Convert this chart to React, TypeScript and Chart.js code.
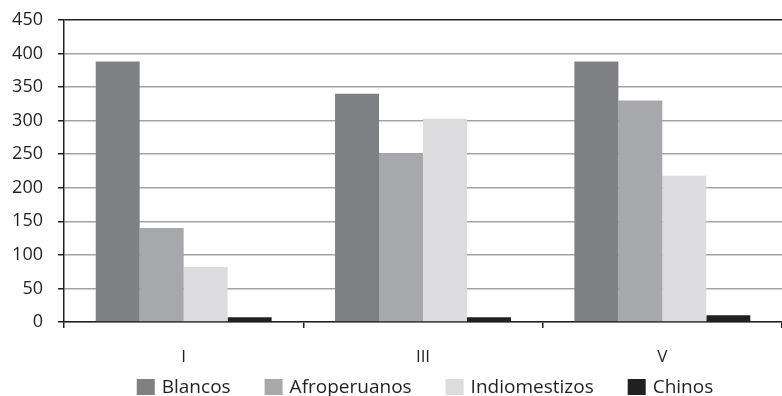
import React, { useEffect, useRef } from "react";
import { Chart, registerables } from "chart.js";

Chart.register(...registerables);

const categories = ["I", "III", "V"];
const seriesNames = ["Blancos", "Afroperuanos", "Indiomestizos", "Chinos"];
const blancos = [388, 340, 388];
const afroperuanos = [140, 251, 330];
const indiomestizos = [82, 303, 218];
const chinos = [7, 7, 10];
const seriesColors = ["#7f8083", "#a7a8ab", "#dcdcde", "#231f20"];
const yTicks = [0, 50, 100, 150, 200, 250, 300, 350, 400, 450];

const FONT = "'Open Sans', 'Noto Sans', sans-serif";
const TEXT = "#231f20";

const legendPlugin = {
  id: "customLegend",
  afterDraw(chart: any) {
    const ctx = chart.ctx;
    const area = chart.chartArea;
    const boxW = 18;
    const boxH = 16;
    const textGap = 7;
    const itemGap = 34;
    ctx.save();
    ctx.font = `19px ${FONT}`;
    const items = chart.data.datasets.map((d: any) => ({
      label: d.label,
      color: d.backgroundColor,
      w: boxW + textGap + ctx.measureText(d.label).width,
    }));
    const total = items.reduce((s: number, it: any) => s + it.w, 0) + itemGap * (items.length - 1);
    let x = (area.left + area.right) / 2 - total / 2 + 2;
    const cy = 387;
    ctx.textBaseline = "middle";
    ctx.textAlign = "left";
    for (const it of items) {
      ctx.fillStyle = it.color;
      ctx.fillRect(x, cy - boxH / 2, boxW, boxH);
      ctx.fillStyle = TEXT;
      ctx.fillText(it.label, x + boxW + textGap, cy + 1);
      x += it.w + itemGap;
    }
    ctx.restore();
  },
};

export default function App() {
  const ref = useRef<HTMLCanvasElement | null>(null);
  useEffect(() => {
    document.body.style.margin = "0";
    const ctx = ref.current!;
    const data = [blancos, afroperuanos, indiomestizos, chinos];
    const chart = new Chart(ctx, {
      type: "bar",
      data: {
        labels: categories,
        datasets: seriesNames.map((name, i) => ({
          label: name,
          data: data[i],
          backgroundColor: seriesColors[i],
        })),
      },
      plugins: [legendPlugin],
      options: {
        animation: false,
        responsive: false,
        maintainAspectRatio: false,
        layout: { padding: { top: 20, right: 0, left: 0, bottom: 0 } },
        datasets: { bar: { barPercentage: 1, categoryPercentage: 0.735 } },
        plugins: {
          tooltip: { enabled: false },
          legend: { display: false },
        },
        scales: {
          x: {
            offset: true,
            afterFit: (s: any) => {
              s.height = 74;
              s.paddingLeft = 0;
              s.paddingRight = 0;
            },
            grid: {
              offset: true,
              drawOnChartArea: false,
              drawTicks: true,
              tickLength: 6,
              tickColor: TEXT,
              lineWidth: 1.5,
            },
            border: { color: TEXT, width: 1.5 },
            ticks: { color: TEXT, font: { family: FONT, size: 17 }, padding: 19 },
          },
          y: {
            min: 0,
            max: 450,
            afterFit: (s: any) => {
              s.width = 64;
              s.paddingTop = 0;
              s.paddingBottom = 0;
            },
            afterBuildTicks: (axis: any) => {
              axis.ticks = yTicks.map((v) => ({ value: v }));
            },
            grid: {
              color: (c: any) => (c.tick && c.tick.value === 450 ? TEXT : "#a3a3a5"),
              lineWidth: 1.5,
              tickLength: 6,
              tickColor: TEXT,
            },
            border: { color: TEXT, width: 1.5 },
            ticks: { color: TEXT, font: { family: FONT, size: 18 }, padding: 15 },
          },
        },
      },
    });
    return () => chart.destroy();
  }, []);
  return (
    <div style={{ position: "fixed", left: 0, top: 0, width: 782, height: 396 }}>
      <canvas ref={ref} width={782} height={396} />
    </div>
  );
}
